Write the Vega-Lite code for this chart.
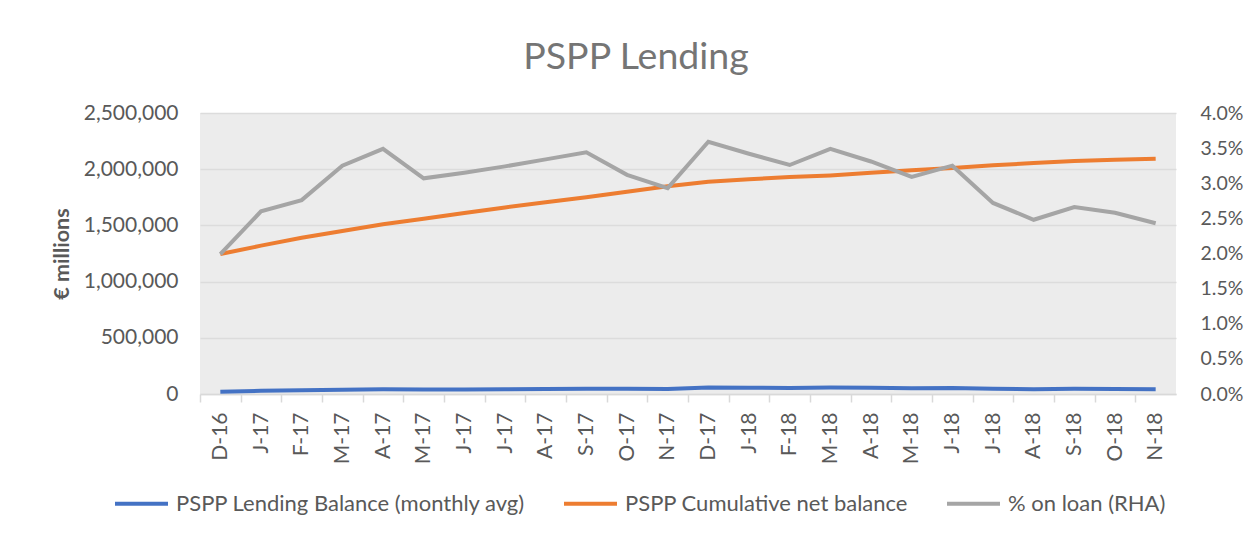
{
  "$schema": "https://vega.github.io/schema/vega-lite/v6.json",
  "autosize": "none",
  "width": 976,
  "height": 281,
  "padding": {"left": 200, "top": 113, "right": 84, "bottom": 142},
  "background": "white",
  "title": {
    "text": "PSPP Lending",
    "font": "Lato",
    "fontSize": 37.5,
    "fontWeight": "normal",
    "color": "#757575",
    "anchor": "middle",
    "dx": -52,
    "offset": 26
  },
  "config": {
    "font": "Lato",
    "view": {"fill": "#ececec", "stroke": null}
  },
  "data": {
    "values": [
      {"key": "2016-12", "PSPP Lending Balance (monthly avg)": 20000, "PSPP Cumulative net balance": 1245000, "% on loan (RHA)": 0.0199},
      {"key": "2017-01", "PSPP Lending Balance (monthly avg)": 28000, "PSPP Cumulative net balance": 1320000, "% on loan (RHA)": 0.0260},
      {"key": "2017-02", "PSPP Lending Balance (monthly avg)": 33000, "PSPP Cumulative net balance": 1390000, "% on loan (RHA)": 0.0276},
      {"key": "2017-03", "PSPP Lending Balance (monthly avg)": 38000, "PSPP Cumulative net balance": 1450000, "% on loan (RHA)": 0.0325},
      {"key": "2017-04", "PSPP Lending Balance (monthly avg)": 42000, "PSPP Cumulative net balance": 1510000, "% on loan (RHA)": 0.0349},
      {"key": "2017-05", "PSPP Lending Balance (monthly avg)": 40000, "PSPP Cumulative net balance": 1560000, "% on loan (RHA)": 0.0307},
      {"key": "2017-06", "PSPP Lending Balance (monthly avg)": 41000, "PSPP Cumulative net balance": 1610000, "% on loan (RHA)": 0.0315},
      {"key": "2017-07", "PSPP Lending Balance (monthly avg)": 43000, "PSPP Cumulative net balance": 1660000, "% on loan (RHA)": 0.0324},
      {"key": "2017-08", "PSPP Lending Balance (monthly avg)": 45000, "PSPP Cumulative net balance": 1705000, "% on loan (RHA)": 0.0334},
      {"key": "2017-09", "PSPP Lending Balance (monthly avg)": 47000, "PSPP Cumulative net balance": 1750000, "% on loan (RHA)": 0.0344},
      {"key": "2017-10", "PSPP Lending Balance (monthly avg)": 46000, "PSPP Cumulative net balance": 1800000, "% on loan (RHA)": 0.0312},
      {"key": "2017-11", "PSPP Lending Balance (monthly avg)": 45000, "PSPP Cumulative net balance": 1848000, "% on loan (RHA)": 0.0293},
      {"key": "2017-12", "PSPP Lending Balance (monthly avg)": 58000, "PSPP Cumulative net balance": 1888000, "% on loan (RHA)": 0.0359},
      {"key": "2018-01", "PSPP Lending Balance (monthly avg)": 56000, "PSPP Cumulative net balance": 1910000, "% on loan (RHA)": 0.0342},
      {"key": "2018-02", "PSPP Lending Balance (monthly avg)": 54000, "PSPP Cumulative net balance": 1930000, "% on loan (RHA)": 0.0326},
      {"key": "2018-03", "PSPP Lending Balance (monthly avg)": 58000, "PSPP Cumulative net balance": 1945000, "% on loan (RHA)": 0.0349},
      {"key": "2018-04", "PSPP Lending Balance (monthly avg)": 55000, "PSPP Cumulative net balance": 1968000, "% on loan (RHA)": 0.0331},
      {"key": "2018-05", "PSPP Lending Balance (monthly avg)": 52000, "PSPP Cumulative net balance": 1990000, "% on loan (RHA)": 0.0309},
      {"key": "2018-06", "PSPP Lending Balance (monthly avg)": 54000, "PSPP Cumulative net balance": 2010000, "% on loan (RHA)": 0.0325},
      {"key": "2018-07", "PSPP Lending Balance (monthly avg)": 47000, "PSPP Cumulative net balance": 2035000, "% on loan (RHA)": 0.0272},
      {"key": "2018-08", "PSPP Lending Balance (monthly avg)": 42000, "PSPP Cumulative net balance": 2055000, "% on loan (RHA)": 0.0248},
      {"key": "2018-09", "PSPP Lending Balance (monthly avg)": 46000, "PSPP Cumulative net balance": 2072000, "% on loan (RHA)": 0.0266},
      {"key": "2018-10", "PSPP Lending Balance (monthly avg)": 44000, "PSPP Cumulative net balance": 2083000, "% on loan (RHA)": 0.0258},
      {"key": "2018-11", "PSPP Lending Balance (monthly avg)": 42000, "PSPP Cumulative net balance": 2092000, "% on loan (RHA)": 0.0243}
    ]
  },
  "layer": [
    {
      "transform": [
        {"fold": ["PSPP Lending Balance (monthly avg)", "PSPP Cumulative net balance"], "as": ["series", "value"]}
      ],
      "mark": {"type": "line", "strokeWidth": 4},
      "encoding": {
        "x": {
          "field": "key",
          "type": "ordinal",
          "sort": null,
          "scale": {"type": "band", "paddingInner": 0, "paddingOuter": 0},
          "axis": {
            "title": null,
            "labelExpr": "substring('JFMAMJJASOND', toNumber(slice(datum.value, 5)) - 1, toNumber(slice(datum.value, 5))) + '-' + slice(datum.value, 2, 4)",
            "labelAngle": -90,
            "labelFontSize": 21,
            "labelColor": "#595959",
            "labelPadding": 10,
            "domainColor": "#d9d9d9",
            "domainWidth": 1.5,
            "tickColor": "#d9d9d9",
            "tickWidth": 1.5,
            "tickSize": 8,
            "tickOffset": -20.333,
            "labelOffset": 20.333
          }
        },
        "y": {
          "field": "value",
          "type": "quantitative",
          "scale": {"domain": [0, 2500000], "nice": false},
          "axis": {
            "title": "€ millions",
            "titleFontSize": 21.5,
            "titleFontWeight": "bold",
            "titleColor": "#595959",
            "titlePadding": 10,
            "values": [0, 500000, 1000000, 1500000, 2000000, 2500000],
            "format": ",.0f",
            "labelFontSize": 21,
            "labelColor": "#595959",
            "labelPadding": 22,
            "ticks": false,
            "domain": false,
            "gridColor": "#dcdcdc",
            "gridWidth": 1.5
          }
        },
        "color": {
          "field": "series",
          "type": "nominal",
          "scale": {
            "domain": ["PSPP Lending Balance (monthly avg)", "PSPP Cumulative net balance", "% on loan (RHA)"],
            "range": ["#4472C4", "#ED7D31", "#A5A5A5"]
          },
          "legend": {
            "title": null,
            "orient": "none",
            "direction": "horizontal",
            "legendX": -87,
            "legendY": 362,
            "symbolType": "stroke",
            "symbolSize": 2809,
            "symbolStrokeWidth": 4,
            "labelFontSize": 22,
            "labelColor": "#595959",
            "labelLimit": 0,
            "labelOffset": 6,
            "columnPadding": 30
          }
        }
      }
    },
    {
      "transform": [
        {"fold": ["% on loan (RHA)"], "as": ["series", "value"]}
      ],
      "mark": {"type": "line", "strokeWidth": 4},
      "encoding": {
        "x": {"field": "key", "type": "ordinal", "sort": null},
        "y": {
          "field": "value",
          "type": "quantitative",
          "scale": {"domain": [0, 0.04], "nice": false},
          "axis": {
            "orient": "right",
            "title": null,
            "values": [0, 0.005, 0.01, 0.015, 0.02, 0.025, 0.03, 0.035, 0.04],
            "format": ".1%",
            "labelFontSize": 19.5,
            "labelColor": "#595959",
            "labelPadding": 24,
            "ticks": false,
            "domain": false,
            "grid": false
          }
        },
        "color": {"field": "series", "type": "nominal"}
      }
    }
  ],
  "resolve": {"scale": {"y": "independent"}}
}
